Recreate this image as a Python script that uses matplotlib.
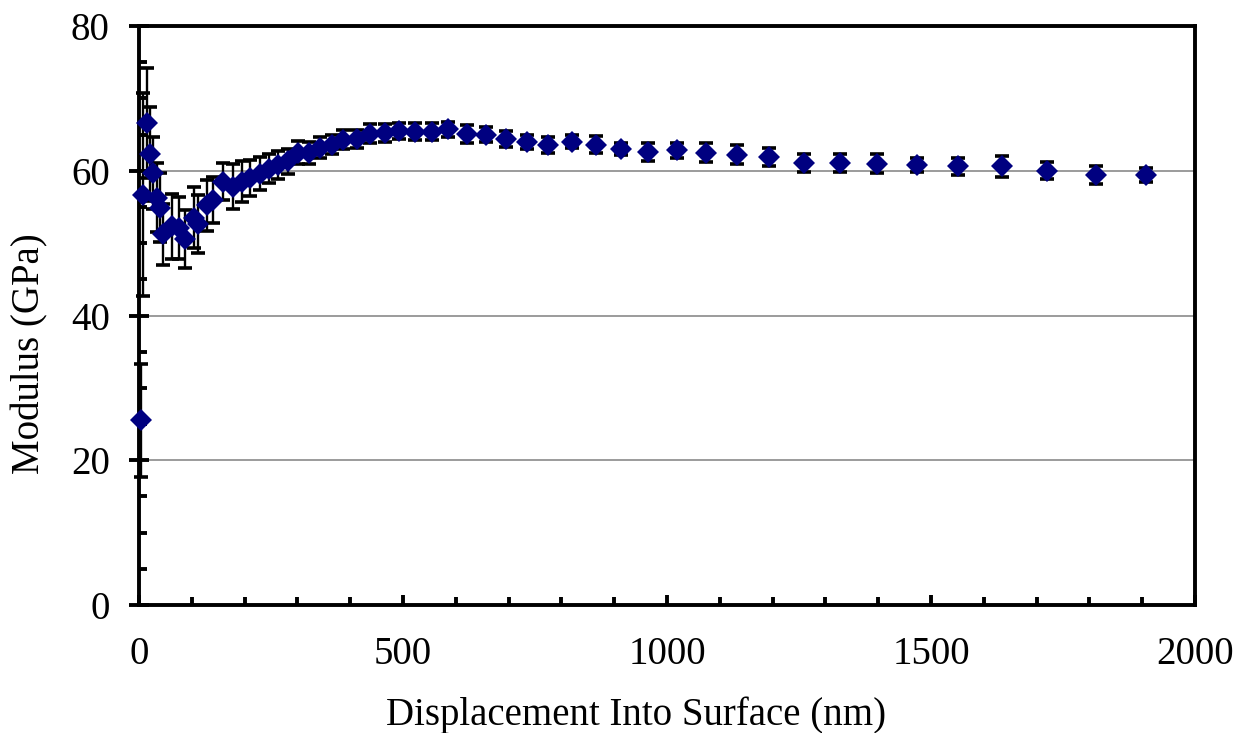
import matplotlib
matplotlib.use("Agg")
import matplotlib.pyplot as plt
from matplotlib.ticker import MultipleLocator

# ---- data ----
displacement_nm = [4, 8, 15, 21, 27, 34, 40, 45, 62, 76, 87, 104, 112, 129, 140, 159,
                   178, 195, 210, 229, 246, 263, 282, 301, 322, 343, 366, 386, 413, 438,
                   466, 492, 523, 555, 585, 621, 657, 695, 735, 775, 820, 866, 913, 964,
                   1019, 1074, 1133, 1193, 1259, 1328, 1398, 1473, 1551, 1634, 1720, 1813, 1907]
modulus_gpa = [25.5, 56.7, 66.6, 62.3, 59.7, 56.3, 54.9, 51.2, 52.3, 52.1, 50.6, 53.5, 52.6,
               55.2, 56.0, 58.5, 57.8, 58.5, 59.0, 59.6, 60.3, 60.8, 61.3, 62.5, 62.5, 63.2,
               63.6, 64.3, 64.4, 65.1, 65.2, 65.5, 65.4, 65.4, 65.7, 65.1, 65.0, 64.4, 64.0,
               63.6, 64.0, 63.6, 63.0, 62.6, 62.8, 62.5, 62.2, 61.9, 61.1, 61.1, 61.0, 60.8,
               60.6, 60.6, 60.0, 59.4, 59.4]
modulus_err = [7.8, 14.0, 7.6, 6.5, 5.0, 4.8, 4.8, 4.2, 4.5, 4.3, 4.0, 4.2, 4.0, 3.5, 3.2,
               2.6, 3.1, 2.8, 2.5, 2.3, 2.0, 1.9, 1.7, 1.6, 1.5, 1.4, 1.3, 1.3, 1.2, 1.3, 1.2,
               1.1, 1.2, 1.2, 1.0, 1.2, 1.0, 1.1, 1.0, 1.1, 0.9, 1.2, 0.8, 1.2, 1.1, 1.3, 1.3,
               1.25, 1.25, 1.25, 1.25, 1.0, 1.2, 1.4, 1.2, 1.2, 1.0]

x_ticks = [0, 500, 1000, 1500, 2000]
y_ticks = [0, 20, 40, 60, 80]
x_label = "Displacement Into Surface (nm)"
y_label = "Modulus (GPa)"

plt.rcParams['font.family'] = ['Liberation Serif', 'DejaVu Serif']
FS = 28

fig = plt.figure(figsize=(12.42, 7.33), dpi=100)
W, H = 1242, 733
ax = fig.add_axes([139 / W, 1 - 605 / H, (1195 - 139) / W, (605 - 26) / H])

ax.errorbar(displacement_nm, modulus_gpa, yerr=modulus_err, fmt='none',
            ecolor='black', elinewidth=1.7, capsize=5, capthick=2.6,
            zorder=3, clip_on=False)
ax.plot(displacement_nm, modulus_gpa, linestyle='none', marker='D',
        markersize=11.5, color='#000080', markeredgewidth=0, zorder=4, clip_on=False)

ax.set_xlim(0, 2000)
ax.set_ylim(0, 80)
ax.set_xticks(x_ticks)
ax.set_yticks(y_ticks)
ax.xaxis.set_minor_locator(MultipleLocator(100))
ax.yaxis.set_minor_locator(MultipleLocator(5))

ax.set_axisbelow(True)
ax.yaxis.grid(True, which='major', color='#808080', linewidth=1.1)

for s in ax.spines.values():
    s.set_linewidth(2.8)
    s.set_color('black')

ax.tick_params(axis='y', which='major', direction='inout', length=14, width=2.8,
               labelsize=FS, pad=14)
ax.tick_params(axis='y', which='minor', direction='in', length=6, width=2.8)
ax.tick_params(axis='x', which='major', direction='in', length=7, width=2.8,
               labelsize=FS, pad=22)
ax.tick_params(axis='x', which='minor', direction='in', length=5.5, width=2.8)

ax.set_xlabel(x_label, fontsize=FS)
ax.set_ylabel(y_label, fontsize=FS)
ax.xaxis.set_label_coords((636 - 139) / 1056, (605 - 696) / 579)
ax.yaxis.set_label_coords((48 - 139) / 1056, (605 - 354) / 579)

fig.savefig("out.png", dpi=100)
